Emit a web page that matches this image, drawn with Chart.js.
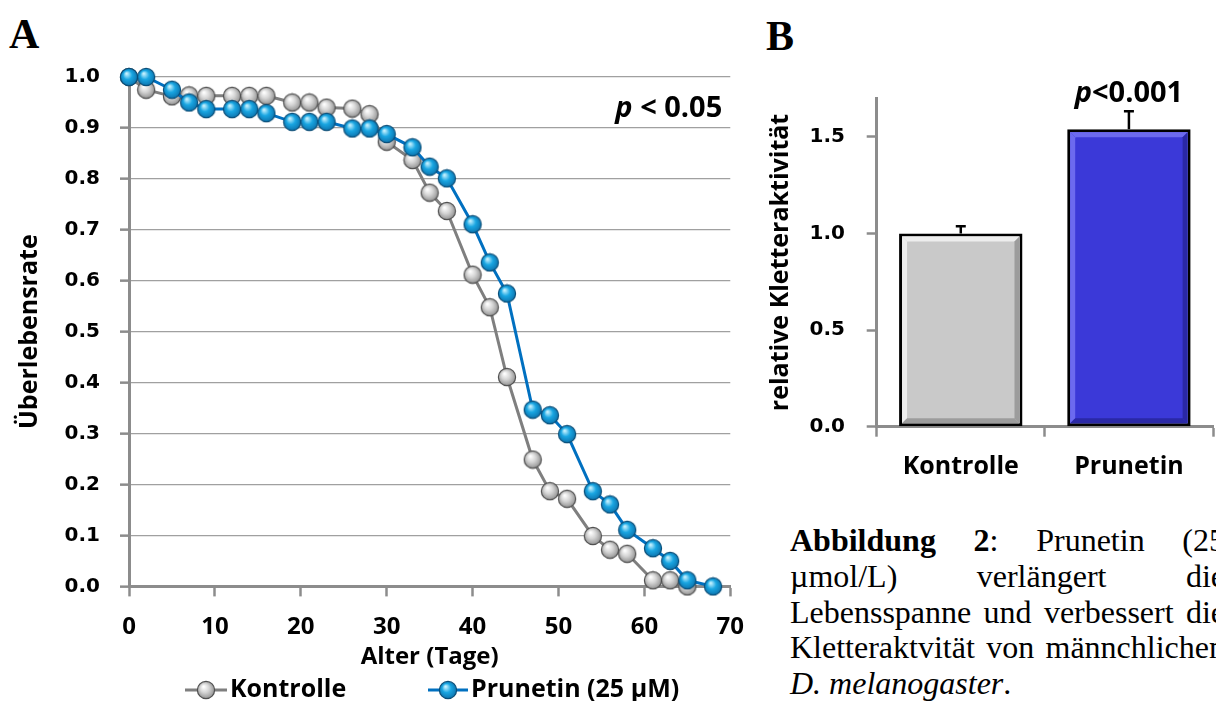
<!DOCTYPE html>
<html>
<head>
<meta charset="utf-8">
<script src="https://cdn.jsdelivr.net/npm/chart.js@4.4.1/dist/chart.umd.min.js"></script>
<style>
  html, body { margin: 0; padding: 0; background: #fff; width: 1216px; height: 701px; overflow: hidden; }
  #wrapA { position: absolute; left: 0; top: 0; width: 760px; height: 701px; }
  #wrapB { position: absolute; left: 760px; top: 0; width: 456px; height: 500px; }
  .panel { position: absolute; font-family: "Liberation Serif", "Times New Roman", serif; font-weight: bold; font-size: 42px; line-height: 42px; color: #000; }
  #caption { position: absolute; left: 790px; top: 523px; width: 435px; font-family: "Liberation Serif", "Times New Roman", serif; font-size: 32px; line-height: 35.8px; text-align: justify; color: #000; }
</style>
</head>
<body>
<div class="panel" style="left:9px;top:13px">A</div>
<div class="panel" style="left:766px;top:15px">B</div>
<div id="wrapA"><canvas id="chartA"></canvas></div>
<div id="wrapB"><canvas id="chartB"></canvas></div>
<div id="caption"><b>Abbildung 2</b>: Prunetin (25 µmol/L) verlängert die Lebensspanne und verbessert die Kletteraktvität von männchlichen <i>D. melanogaster</i>.</div>

<script>
// Panel A: Überlebenskurven (Alter in Tagen)
const ageDays   = [0, 2, 5, 7, 9, 12, 14, 16, 19, 21, 23, 26, 28, 30, 33, 35, 37, 40, 42, 44, 47, 49, 51, 54, 56, 58, 61, 63, 65, 68];
const kontrolle = [1.0, 0.975, 0.962, 0.964, 0.963, 0.963, 0.963, 0.963, 0.95, 0.95, 0.94, 0.938, 0.927, 0.873, 0.837, 0.773, 0.737, 0.612, 0.548, 0.411, 0.249, 0.187, 0.172, 0.099, 0.072, 0.064, 0.012, 0.012, 0.0, null];
const prunetin  = [1.0, 1.0, 0.975, 0.95, 0.937, 0.937, 0.937, 0.929, 0.912, 0.912, 0.912, 0.899, 0.899, 0.888, 0.862, 0.824, 0.801, 0.711, 0.636, 0.575, 0.347, 0.336, 0.299, 0.187, 0.161, 0.111, 0.075, 0.050, 0.012, 0.0];
const xTicksA = [0, 10, 20, 30, 40, 50, 60, 70];
const yTicksA = [0, 0.1, 0.2, 0.3, 0.4, 0.5, 0.6, 0.7, 0.8, 0.9, 1.0];

// Panel B: relative Kletteraktivität
const gruppen = ['Kontrolle', 'Prunetin'];
const kletterMittel = [1.0, 1.54];
const kletterFehler = [0.038, 0.093];
const yTicksB = [0, 0.5, 1.0, 1.5];

const grau = '#8c8c8c';
const boldSans = { family: 'Open Sans', weight: 'bold' };

// kleine Kugel als Marker (wie Excel 3D-Marker)
function kugel(hell, mitte, dunkel, rand) {
  const c = document.createElement('canvas');
  c.width = 20; c.height = 20;
  const g = c.getContext('2d');
  const grad = g.createRadialGradient(7.5, 6.5, 0.5, 10, 10, 9.5);
  grad.addColorStop(0, hell);
  grad.addColorStop(0.45, mitte);
  grad.addColorStop(1, dunkel);
  g.beginPath();
  g.arc(10, 10, 8.6, 0, Math.PI * 2);
  g.fillStyle = grad;
  g.fill();
  g.lineWidth = 1.2;
  g.strokeStyle = rand;
  g.stroke();
  return c;
}
const kugelBlau = kugel('#c8f2ff', '#19a6e2', '#0b6ea8', '#0a4e78');
const kugelGrau = kugel('#ffffff', '#d4d4d4', '#8a8a8a', '#505050');

function punkte(werte) {
  return ageDays.map((d, i) => ({ x: d, y: werte[i] })).filter(p => p.y !== null);
}

// p-Wert mit kursivem p
function pText(ctx, rest, x, y, size, align) {
  ctx.save();
  ctx.fillStyle = '#000';
  ctx.textBaseline = 'alphabetic';
  ctx.font = `italic bold ${size}px "Open Sans"`;
  const wP = ctx.measureText('p').width;
  ctx.font = `bold ${size}px "Open Sans"`;
  const wR = ctx.measureText(rest).width;
  const start = align === 'right' ? x - wP - wR : x - (wP + wR) / 2;
  ctx.textAlign = 'left';
  ctx.font = `italic bold ${size}px "Open Sans"`;
  ctx.fillText('p', start, y);
  ctx.font = `bold ${size}px "Open Sans"`;
  ctx.fillText(rest, start + wP, y);
  ctx.restore();
}

const pWertA = {
  id: 'pWertA',
  afterDraw(chart) {
    pText(chart.ctx, ' < 0.05', chart.chartArea.right - 8, 117, 29, 'right');
  }
};

const legendeA = {
  id: 'legendeA',
  afterDraw(chart) {
    const ctx = chart.ctx;
    const y = 690;
    const eintraege = [
      { ds: 1, x0: 185, x1: 227, img: kugelGrau },
      { ds: 0, x0: 428, x1: 468, img: kugelBlau }
    ];
    ctx.save();
    eintraege.forEach(e => {
      const ds = chart.data.datasets[e.ds];
      ctx.strokeStyle = ds.borderColor;
      ctx.lineWidth = 3;
      ctx.beginPath();
      ctx.moveTo(e.x0, y);
      ctx.lineTo(e.x1, y);
      ctx.stroke();
      ctx.drawImage(e.img, (e.x0 + e.x1) / 2 - 10, y - 10);
      ctx.fillStyle = '#000';
      ctx.font = 'bold 25px "Open Sans"';
      ctx.textBaseline = 'middle';
      ctx.textAlign = 'left';
      ctx.fillText(ds.label, e.x1 + 3, y);
    });
    ctx.restore();
  }
};

new Chart(document.getElementById('chartA'), {
  type: 'line',
  data: {
    datasets: [
      {
        label: 'Prunetin (25 µM)',
        data: punkte(prunetin),
        borderColor: '#0070c0',
        borderWidth: 3,
        pointStyle: kugelBlau,
        pointRadius: 9,
        clip: false
      },
      {
        label: 'Kontrolle',
        data: punkte(kontrolle),
        borderColor: '#7f7f7f',
        borderWidth: 3,
        pointStyle: kugelGrau,
        pointRadius: 9,
        clip: false
      }
    ]
  },
  options: {
    responsive: true,
    maintainAspectRatio: false,
    animation: false,
    layout: { padding: { left: 0, top: 77, right: 23, bottom: 29 } },
    plugins: { legend: { display: false }, tooltip: { enabled: false } },
    scales: {
      x: {
        type: 'linear',
        min: 0,
        max: 70,
        afterFit: s => { s.height = 85.6; },
        afterBuildTicks: s => { s.ticks = xTicksA.map(v => ({ value: v })); },
        ticks: { padding: 16, maxRotation: 0, color: '#000', font: { ...boldSans, size: 24 } },
        grid: { drawOnChartArea: false, tickLength: 10, tickColor: grau, tickWidth: 2.5 },
        border: { color: grau, width: 3 },
        title: { display: true, text: 'Alter (Tage)', color: '#000', font: { ...boldSans, size: 24 }, padding: { top: 2, bottom: 0 } }
      },
      y: {
        min: 0,
        max: 1,
        afterFit: s => { s.width = 129; },
        afterBuildTicks: s => { s.ticks = yTicksA.map(v => ({ value: v })); },
        ticks: { padding: 20, color: '#000', font: { family: 'DejaVu Sans', weight: 'bold', size: 20 }, callback: v => v.toFixed(1) },
        grid: { color: '#a0a0a0', lineWidth: 1.3, tickLength: 9, tickColor: grau, tickWidth: 2.5 },
        border: { color: grau, width: 3 },
        title: { display: true, text: 'Überlebensrate', color: '#000', font: { ...boldSans, size: 25 }, padding: { top: 15, bottom: 0 } }
      }
    }
  },
  plugins: [pWertA, legendeA]
});

// Panel B
const schatten = [['#ededed', '#9c9c9c'], ['#6c6aef', '#2a28a6']];

const balkenRelief = {
  id: 'balkenRelief',
  afterDatasetsDraw(chart) {
    const ctx = chart.ctx;
    const meta = chart.getDatasetMeta(0);
    ctx.save();
    meta.data.forEach((bar, i) => {
      const l = bar.x - bar.width / 2 + 3, r = bar.x + bar.width / 2 - 3;
      const t = bar.y + 3, b = bar.base - 3, d = 5;
      const [hell, dunkel] = schatten[i];
      const poly = (pts, col) => {
        ctx.beginPath();
        ctx.moveTo(pts[0][0], pts[0][1]);
        pts.slice(1).forEach(p => ctx.lineTo(p[0], p[1]));
        ctx.closePath();
        ctx.fillStyle = col;
        ctx.fill();
      };
      poly([[l, t], [r, t], [r - d, t + d], [l + d, t + d]], hell);
      poly([[l, t], [l + d, t + d], [l + d, b - d], [l, b]], hell);
      poly([[r, t], [r, b], [r - d, b - d], [r - d, t + d]], dunkel);
      poly([[l, b], [r, b], [r - d, b - d], [l + d, b - d]], dunkel);
    });
    ctx.restore();
  }
};

const fehlerBalken = {
  id: 'fehlerBalken',
  afterDatasetsDraw(chart) {
    const ctx = chart.ctx;
    const y = chart.scales.y;
    const meta = chart.getDatasetMeta(0);
    ctx.save();
    ctx.strokeStyle = '#000';
    ctx.lineWidth = 2.5;
    meta.data.forEach((bar, i) => {
      const oben = y.getPixelForValue(kletterMittel[i] + kletterFehler[i]);
      ctx.beginPath();
      ctx.moveTo(bar.x, bar.y);
      ctx.lineTo(bar.x, oben);
      ctx.moveTo(bar.x - 5, oben);
      ctx.lineTo(bar.x + 5, oben);
      ctx.stroke();
    });
    ctx.restore();
  }
};

const pWertB = {
  id: 'pWertB',
  afterDraw(chart) {
    const bar = chart.getDatasetMeta(0).data[1];
    pText(chart.ctx, '<0.001', bar.x, 102, 29, 'center');
  }
};

new Chart(document.getElementById('chartB'), {
  type: 'bar',
  data: {
    labels: gruppen,
    datasets: [{
      data: kletterMittel,
      backgroundColor: ['#c9c9c9', '#3b39d8'],
      borderColor: '#000',
      borderWidth: 3,
      borderSkipped: false,
      categoryPercentage: 1,
      barPercentage: 0.734
    }]
  },
  options: {
    responsive: true,
    maintainAspectRatio: false,
    animation: false,
    layout: { padding: { left: 0, top: 98.3, right: 3, bottom: 18.3 } },
    plugins: { legend: { display: false }, tooltip: { enabled: false } },
    scales: {
      x: {
        afterFit: s => { s.height = 55; },
        ticks: { padding: 15, color: '#000', font: { ...boldSans, size: 25 } },
        grid: { drawOnChartArea: false, offset: true, tickLength: 10, tickColor: grau, tickWidth: 2.5 },
        border: { color: grau, width: 3 }
      },
      y: {
        min: 0,
        max: 1.7,
        afterFit: s => { s.width = 116.7; },
        afterBuildTicks: s => { s.ticks = yTicksB.map(v => ({ value: v })); },
        ticks: { padding: 21.7, color: '#000', font: { family: 'DejaVu Sans', weight: 'bold', size: 20 }, callback: v => v.toFixed(1) },
        grid: { drawOnChartArea: false, tickLength: 10, tickColor: grau, tickWidth: 2.5 },
        border: { color: grau, width: 3 },
        title: { display: true, text: 'relative Kletteraktivität', color: '#000', font: { ...boldSans, size: 25 }, padding: { top: 6, bottom: 0 } }
      }
    }
  },
  plugins: [balkenRelief, fehlerBalken, pWertB]
});
</script>
</body>
</html>
